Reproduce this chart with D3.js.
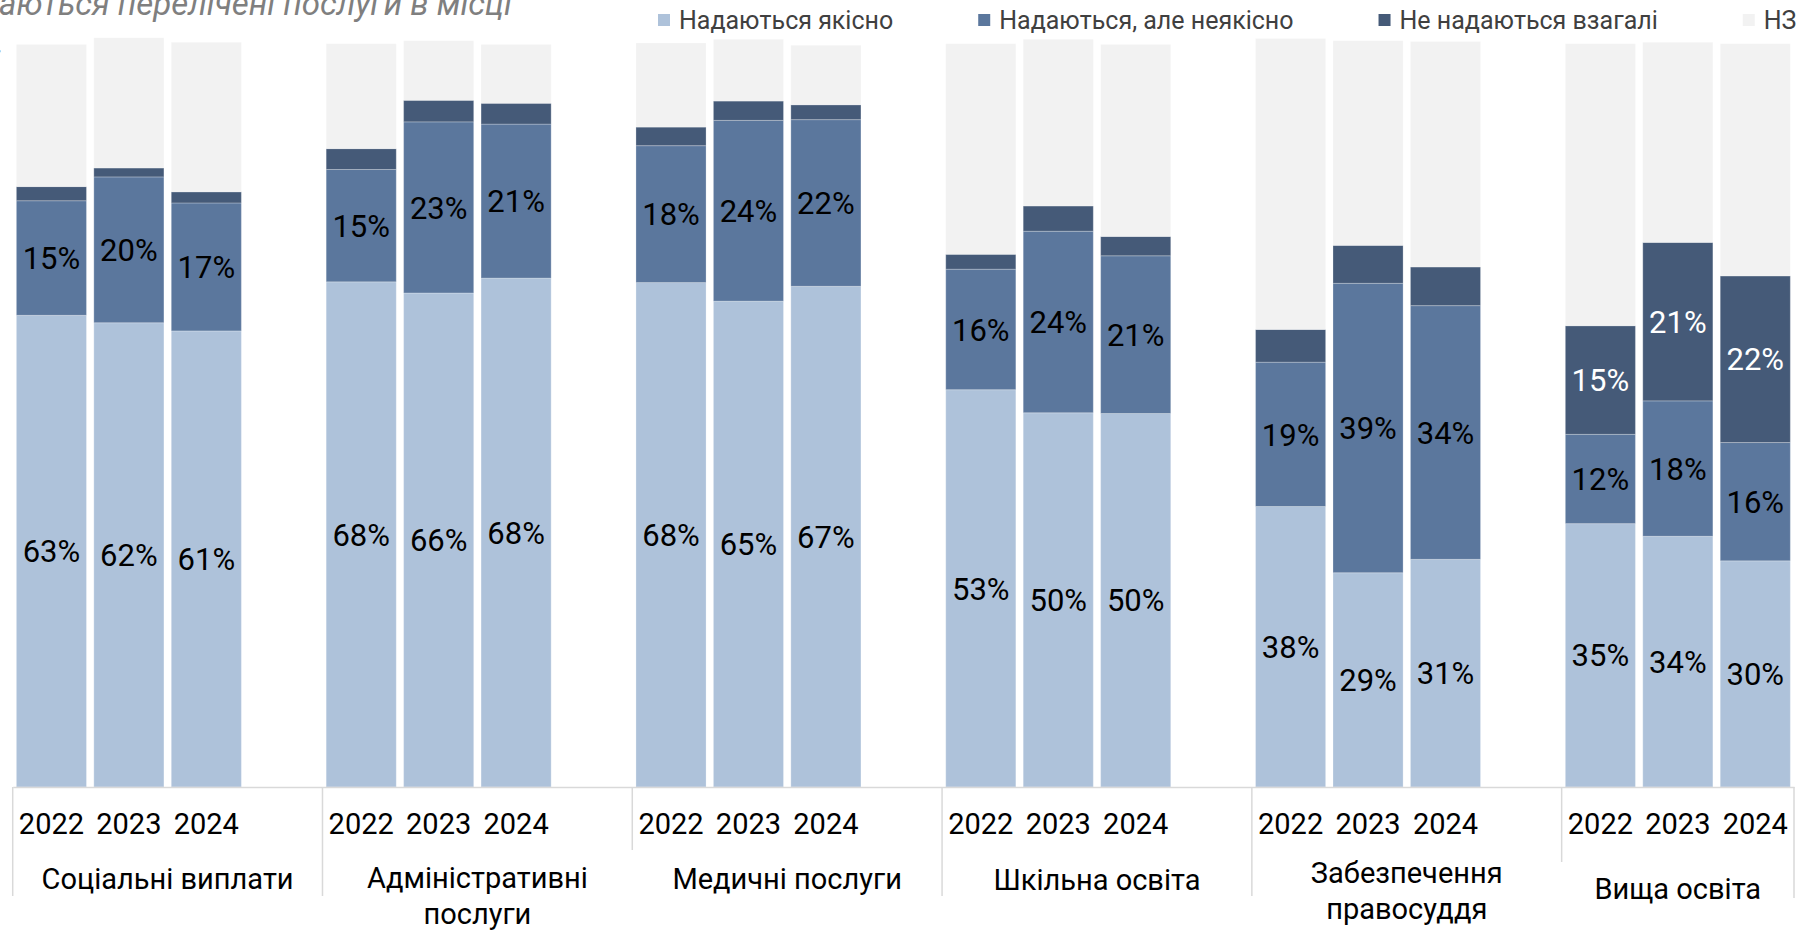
<!DOCTYPE html>
<html>
<head>
<meta charset="utf-8">
<script src="https://cdn.jsdelivr.net/npm/d3@7"></script>
<style>
body { margin: 0; background: #fff; }
svg { display: block; font-family: Roboto, "Noto Sans", sans-serif; }
</style>
</head>
<body>
<script>
const categories = ['Соціальні виплати', 'Адміністративні послуги', 'Медичні послуги', 'Шкільна освіта', 'Забезпечення правосуддя', 'Вища освіта'];
const years = ['2022', '2023', '2024'];
const seriesNames = ['Надаються якісно', 'Надаються, але неякісно', 'Не надаються взагалі', 'НЗ'];

// % of respondents, 3 years per category, in category order
const goodQuality = [63.4, 62.4, 61.3, 67.9, 66.4, 68.4, 67.8, 65.3, 67.3, 53.4, 50.3, 50.2, 37.7, 28.8, 30.6, 35.4, 33.7, 30.4];
const poorQuality = [15.4, 19.6, 17.2, 15.1, 23.0, 20.7, 18.4, 24.3, 22.4, 16.2, 24.4, 21.2, 19.4, 38.9, 34.1, 12.0, 18.2, 15.9];
const notProvided = [1.9, 1.2, 1.5, 2.8, 2.9, 2.8, 2.5, 2.6, 2.0, 2.0, 3.4, 2.6, 4.4, 5.1, 5.2, 14.6, 21.3, 22.4];
const noAnswer = [19.1, 17.5, 20.1, 14.1, 8.0, 7.9, 11.3, 8.3, 8.0, 28.3, 22.4, 25.8, 39.1, 27.5, 30.3, 37.9, 26.9, 31.2];

const titleText = 'аються перелічені послуги в місці';

const width = 1805;
const height = 930;
const x0 = 12.7, x1 = 1794;
const baseY = 787, topY = 43;

// label rows under the axis (baselines)
const catLabelY = [889, 888, 889, 890, 883, 899];
// how far each group divider goes down
const dividerEnd = [896, 896, 850, 896, 896, 862, 898];

const slots = [];
categories.forEach((c, ci) => {
  years.forEach(yr => slots.push(c + '|' + yr));
  if (ci < categories.length - 1) slots.push(c + '|gap');
});

const rows = [];
categories.forEach((c, ci) => {
  years.forEach((yr, yi) => {
    const i = ci * 3 + yi;
    const r = { key: c + '|' + yr, cat: c, year: yr };
    r[seriesNames[0]] = goodQuality[i];
    r[seriesNames[1]] = poorQuality[i];
    r[seriesNames[2]] = notProvided[i];
    r[seriesNames[3]] = noAnswer[i];
    rows.push(r);
  });
});

const x = d3.scaleBand().domain(slots).range([x0, x1]).paddingInner(0.095).paddingOuter(0.0475);
const y = d3.scaleLinear().domain([0, 100]).range([baseY, topY]);
const color = d3.scaleOrdinal().domain(seriesNames).range(['#aec2da', '#5b779d', '#455a78', '#f2f2f2']);

const stacked = d3.stack().keys(seriesNames)(rows);

const svg = d3
.create('svg')
.attr('viewBox', [0, 0, width, height])
.attr('width', width)
.attr('height', height);

document.body.appendChild(svg.node());

// title (cut off at the top like the source)
svg.append('text')
.attr('x', -1)
.attr('y', 15)
.attr('font-size', 33)
.attr('font-style', 'italic')
.attr('fill', '#7f7f7f')
.text(titleText);

svg.append('text')
.attr('x', -4)
.attr('y', 53)
.attr('font-size', 32)
.attr('font-style', 'italic')
.attr('fill', '#7f7f7f')
.text('.');

// bars
const layers = svg.append('g')
.selectAll('g')
.data(stacked)
.join('g')
.attr('fill', d => color(d.key));

layers.selectAll('rect')
.data(d => d)
.join('rect')
.attr('x', d => x(d.data.key))
.attr('width', x.bandwidth())
.attr('y', d => y(d[1]))
.attr('height', d => y(d[0]) - y(d[1]))
.attr('stroke', 'rgba(255,255,255,0.25)')
.attr('stroke-width', 1);

// value labels
stacked.forEach((layer, li) => {
  if (li > 2) return;
  svg.append('g')
  .selectAll('text')
  .data(layer.filter(d => d[1] - d[0] >= 10))
  .join('text')
  .attr('x', d => x(d.data.key) + x.bandwidth() / 2)
  .attr('y', d => (y(d[0]) + y(d[1])) / 2)
  .attr('dy', '0.36em')
  .attr('text-anchor', 'middle')
  .attr('font-size', 31)
  .attr('fill', li == 2 ? '#ffffff' : '#000000')
  .text(d => Math.round(d[1] - d[0]) + '%');
});

// x axis with year ticks
const yearKeys = slots.filter(s => !s.endsWith('|gap'));
const axis = svg.append('g')
.attr('transform', `translate(0,${baseY})`)
.call(d3.axisBottom(x).tickValues(yearKeys).tickFormat(k => k.split('|')[1]).tickSize(0).tickSizeOuter(0));

axis.select('.domain').attr('stroke', '#d9d9d9').attr('stroke-width', 1.5);
axis.selectAll('.tick text')
.attr('y', 47)
.attr('dy', null)
.attr('font-size', 29)
.attr('font-family', 'Roboto, sans-serif')
.attr('fill', '#000');

// group dividers
const groupW = 4 * x.step();
const dividerX = categories.map((c, i) => x0 + i * groupW).concat([x1]);
svg.append('g')
.selectAll('line')
.data(dividerX)
.join('line')
.attr('x1', d => d)
.attr('x2', d => d)
.attr('y1', baseY)
.attr('y2', (d, i) => dividerEnd[i])
.attr('stroke', '#d9d9d9')
.attr('stroke-width', 1.5);

// category labels, wrapped when too wide
const catG = svg.append('g');
categories.forEach((c, i) => {
  const left = dividerX[i];
  const right = i < categories.length - 1 ? dividerX[i] + groupW : x1;
  const cx = (left + right) / 2;
  const t = catG.append('text')
  .attr('x', cx)
  .attr('y', catLabelY[i])
  .attr('text-anchor', 'middle')
  .attr('font-size', 29)
  .attr('fill', '#000')
  .text(c);
  if (t.node().getComputedTextLength() > right - left - 20) {
    t.text(null);
    c.split(' ').forEach((w, wi) => {
      t.append('tspan').attr('x', cx).attr('dy', wi == 0 ? 0 : 36).text(w);
    });
  }
});

// legend
const legend = svg.append('g').attr('transform', 'translate(0,20)');
let lx = 658;
seriesNames.forEach(name => {
  legend.append('rect')
  .attr('x', lx)
  .attr('y', -6)
  .attr('width', 12)
  .attr('height', 12)
  .attr('fill', color(name));
  const t = legend.append('text')
  .attr('x', lx + 21)
  .attr('dy', '0.35em')
  .attr('font-size', 25)
  .attr('fill', '#404040')
  .text(name);
  lx += 21 + t.node().getComputedTextLength() + 85;
});
</script>
</body>
</html>
